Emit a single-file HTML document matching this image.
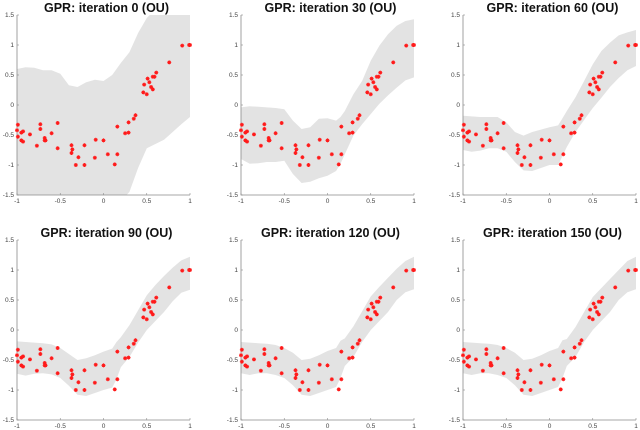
<!DOCTYPE html>
<html><head><meta charset="utf-8"><style>
body{margin:0;background:#fff;width:640px;height:430px;overflow:hidden}
svg{display:block}
text{font-family:"Liberation Sans",Arial,sans-serif}
</style></head><body>
<svg id="fig" width="640" height="430"></svg>
<script>
const pointX=[-0.99,-1,-0.99,-0.95,-0.93,-0.95,-0.93,-0.85,-0.77,-0.73,-0.73,-0.68,-0.67,-0.68,-0.60,-0.53,-0.53,-0.37,-0.36,-0.37,-0.29,-0.32,-0.22,-0.22,-0.09,-0.10,0.0,0.05,0.13,0.16,0.16,0.25,0.29,0.29,0.35,0.37,0.46,0.50,0.47,0.51,0.53,0.55,0.57,0.57,0.59,0.61,0.76,0.91,0.99,1.0];
const pointY=[-0.33,-0.42,-0.53,-0.46,-0.44,-0.59,-0.61,-0.49,-0.68,-0.32,-0.40,-0.55,-0.59,-0.59,-0.47,-0.30,-0.72,-0.67,-0.74,-0.80,-0.87,-1.0,-0.67,-1.0,-0.58,-0.88,-0.59,-0.82,-0.99,-0.82,-0.36,-0.47,-0.46,-0.29,-0.23,-0.17,0.21,0.18,0.34,0.44,0.38,0.30,0.26,0.47,0.47,0.54,0.71,0.99,1.0,1.0];
const bandX=[-1,-0.9,-0.8,-0.7,-0.6,-0.5,-0.4,-0.3,-0.2,-0.1,0,0.1,0.15,0.2,0.3,0.4,0.5,0.6,0.7,0.8,0.9,1];
const titles=["GPR: iteration 0 (OU)","GPR: iteration 30 (OU)","GPR: iteration 60 (OU)","GPR: iteration 90 (OU)","GPR: iteration 120 (OU)","GPR: iteration 150 (OU)"];
const upper0=[0.6,0.63,0.62,0.58,0.58,0.52,0.33,0.3,0.38,0.42,0.4,0.5,0.6,0.7,0.88,1.2,1.45,1.6,1.6,1.6,1.6,1.6];
const lower0=[-1.6,-1.6,-1.6,-1.6,-1.6,-1.6,-1.6,-1.6,-1.6,-1.6,-1.6,-1.6,-1.6,-1.6,-1.45,-1.05,-0.72,-0.65,-0.58,-0.45,-0.32,-0.2];
const upper30=[-0.04,-0.02,-0.03,-0.04,-0.05,-0.07,-0.26,-0.4,-0.37,-0.23,-0.22,-0.26,-0.2,-0.1,0.18,0.4,0.74,0.99,1.18,1.32,1.4,1.43];
const lower30=[-0.9,-0.98,-0.97,-0.95,-0.95,-0.93,-1.15,-1.3,-1.28,-1.22,-1.18,-1.1,-0.98,-0.82,-0.51,-0.32,-0.15,0.02,0.16,0.29,0.41,0.46];
const upper60=[-0.18,-0.19,-0.2,-0.2,-0.2,-0.29,-0.45,-0.51,-0.45,-0.41,-0.37,-0.34,-0.22,-0.1,0.13,0.4,0.68,0.9,1.04,1.16,1.21,1.25];
const lower60=[-0.75,-0.78,-0.76,-0.72,-0.72,-0.78,-0.95,-1.09,-1.1,-1.05,-1.0,-1.0,-0.85,-0.7,-0.45,-0.25,-0.05,0.12,0.3,0.45,0.58,0.65];
const upper90=[-0.19,-0.2,-0.21,-0.22,-0.24,-0.3,-0.4,-0.5,-0.47,-0.42,-0.36,-0.31,-0.2,-0.12,0.08,0.33,0.58,0.75,0.9,1.04,1.16,1.22];
const lower90=[-0.73,-0.76,-0.73,-0.72,-0.74,-0.8,-0.93,-1.08,-1.1,-1.05,-1.0,-0.96,-0.82,-0.62,-0.45,-0.21,0.0,0.15,0.3,0.48,0.62,0.67];
const upper120=[-0.2,-0.21,-0.22,-0.23,-0.25,-0.3,-0.38,-0.5,-0.48,-0.42,-0.35,-0.3,-0.18,-0.14,0.06,0.31,0.56,0.72,0.87,1.02,1.15,1.22];
const lower120=[-0.72,-0.75,-0.72,-0.72,-0.75,-0.8,-0.92,-1.08,-1.1,-1.05,-1.0,-0.95,-0.8,-0.6,-0.45,-0.2,0.0,0.15,0.3,0.5,0.63,0.68];
const upper150=[-0.2,-0.21,-0.22,-0.23,-0.25,-0.3,-0.38,-0.5,-0.48,-0.42,-0.35,-0.3,-0.17,-0.15,0.05,0.3,0.55,0.7,0.85,1.0,1.15,1.22];
const lower150=[-0.72,-0.75,-0.72,-0.72,-0.75,-0.8,-0.92,-1.08,-1.1,-1.05,-1.0,-0.95,-0.8,-0.6,-0.45,-0.2,0.0,0.15,0.3,0.5,0.63,0.68];
const uppers=[upper0,upper30,upper60,upper90,upper120,upper150];
const lowers=[lower0,lower30,lower60,lower90,lower120,lower150];
const xTicks=[-1,-0.5,0,0.5,1];
const xTickLabels=["-1","-0.5","0","0.5","1"];
const yTicks=[-1.5,-1,-0.5,0,0.5,1,1.5];
const yTickLabels=["-1.5","-1","-0.5","0","0.5","1","1.5"];

const NS="http://www.w3.org/2000/svg";
const svg=document.getElementById('fig');
function mk(tag,attrs,parent){const e=document.createElementNS(NS,tag);for(const k in attrs)e.setAttribute(k,attrs[k]);parent.appendChild(e);return e;}
const lefts=[17,241,463], tops=[15,240], W=173, H=180;
for(let p=0;p<6;p++){
  const L=lefts[p%3], T=tops[Math.floor(p/3)];
  const sx=v=>L+(v+1)/2*W;
  const sy=v=>T+(1.5-v)/3*H;
  const g=mk('g',{},svg);
  
  
  const cid='clip'+p;
  const cp=mk('clipPath',{id:cid},g);
  mk('rect',{x:L,y:T,width:W,height:H},cp);
  let d='';
  bandX.forEach((x,i)=>{d+=(i?'L':'M')+sx(x).toFixed(1)+','+sy(uppers[p][i]).toFixed(1);});
  for(let i=bandX.length-1;i>=0;i--)d+='L'+sx(bandX[i]).toFixed(1)+','+sy(lowers[p][i]).toFixed(1);
  const band=mk('path',{d:d+'Z',fill:'#e3e3e3','clip-path':'url(#'+cid+')','stroke-linejoin':'round'},g);
  
  
  const ax=mk('path',{d:`M${L},${T}V${T+H}H${L+W}`,stroke:'#8a8a8a','stroke-width':0.8,fill:'none'},g);
  
  
  xTicks.forEach((v,i)=>{
    mk('line',{x1:sx(v),x2:sx(v),y1:T+H,y2:T+H-2,stroke:'#8a8a8a','stroke-width':0.6},g);
    const t=mk('text',{x:sx(v),y:T+H+8,'font-size':6.5,fill:'#444','text-anchor':'middle'},g);
    t.textContent=xTickLabels[i];
    
    
  });
  yTicks.forEach((v,i)=>{
    mk('line',{x1:L,x2:L+2,y1:sy(v),y2:sy(v),stroke:'#8a8a8a','stroke-width':0.6},g);
    const t=mk('text',{x:L-3,y:sy(v)+2.2,'font-size':6.5,fill:'#444','text-anchor':'end'},g);
    t.textContent=yTickLabels[i];
    
    
  });
  pointX.forEach((x,i)=>{
    const cx=sx(x), cy=sy(pointY[i]);
    const m=mk('path',{d:`M${cx-2},${cy}h4M${cx},${cy-2}v4M${cx-1.4},${cy-1.4}l2.8,2.8M${cx-1.4},${cy+1.4}l2.8,-2.8`,stroke:'#ff1a1a','stroke-width':1},g);
    
    
  });
  const tt=mk('text',{x:L+W/2+3,y:T-3,'font-size':12.5,'font-weight':'bold',fill:'#111','text-anchor':'middle'},g);
  tt.textContent=titles[p];
  
  
}
</script>
</body></html>
